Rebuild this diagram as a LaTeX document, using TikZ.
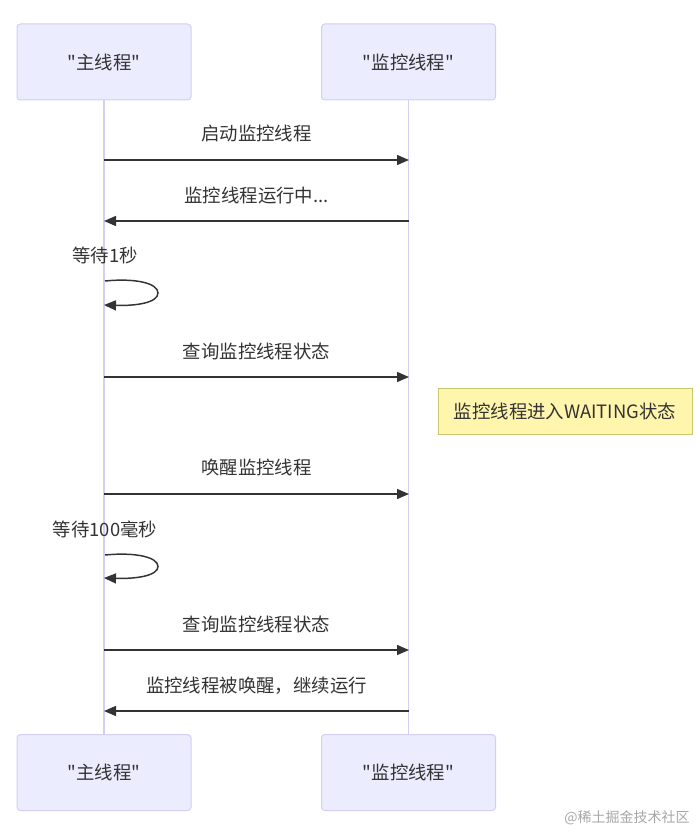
\documentclass[tikz,border=0pt]{standalone}
\usepackage{fontspec}
\setmainfont{Noto Sans CJK SC}[Ligatures=TeXOff]
\usetikzlibrary{arrows.meta}
\definecolor{actfill}{HTML}{ECECFF}
\definecolor{actline}{HTML}{D3CEF2}
\definecolor{lifel}{HTML}{D3CEF2}
\definecolor{txt}{HTML}{333333}
\definecolor{notefill}{HTML}{FFF5AD}
\definecolor{noteline}{HTML}{C8C870}
\tikzset{
  actor/.style={draw=actline, fill=actfill, rounded corners=2.5pt, minimum width=130.5pt, minimum height=57pt, inner sep=0pt, text=txt, font=\fontsize{13.8}{16}\selectfont, line width=0.75pt},
  life/.style={draw=lifel, line width=1.1pt},
  msg/.style={draw=txt, line width=1.1pt, -{Triangle[length=9pt,width=7.5pt]}},
  lbl/.style={text=txt, font=\fontsize{13.8}{16}\selectfont, inner sep=0pt},
  notebox/.style={draw=noteline, fill=notefill, minimum width=190.5pt, minimum height=34.5pt, inner sep=0pt, text=txt, font=\fontsize{13.8}{16}\selectfont, line width=0.75pt},
}
\begin{document}
\begin{tikzpicture}[x=0.75pt,y=-0.75pt]
\useasboundingbox (0,0) rectangle (696,831);
% actors
\node[actor] (mt) at (104,62) {"主线程"};
\node[actor] (wt) at (408.5,62) {"监控线程"};
\node[actor] (mb) at (104,772.5) {"主线程"};
\node[actor] (wb) at (408.5,772.5) {"监控线程"};
% lifelines
\draw[life] (mt.south) -- (mb.north);
\draw[life] (wt.south) -- (wb.north);
% message coordinates
\coordinate (a1) at (104,160); \coordinate (b1) at (409,160);
\coordinate (a2) at (104,221); \coordinate (b2) at (409,221);
\coordinate (l1s) at (105,281); \coordinate (l1e) at (104,305);
\coordinate (a3) at (104,377); \coordinate (b3) at (409,377);
\coordinate (a4) at (104,494); \coordinate (b4) at (409,494);
\coordinate (l2s) at (105,555); \coordinate (l2e) at (104,578);
\coordinate (a5) at (104,650); \coordinate (b5) at (409,650);
\coordinate (a6) at (104,711); \coordinate (b6) at (409,711);
% messages
\draw[msg] (a1) -- (b1);
\node[lbl] (t1) at (256.5,134) {启动监控线程};
\draw[msg] (b2) -- (a2);
\node[lbl] (t2) at (256.5,196) {监控线程运行中...};
\draw[msg] (l1s) .. controls (135,278) and (158,283) .. (158,293) .. controls (158,303) and (135,306) .. (l1e);
\node[lbl] (t3) at (105,255) {等待1秒};
\draw[msg] (a3) -- (b3);
\node[lbl] (t4) at (256.5,351) {查询监控线程状态};
\node[notebox] (n1) at (565,411) {监控线程进入WAITING状态};
\draw[msg] (a4) -- (b4);
\node[lbl] (t5) at (256.5,467) {唤醒监控线程};
\draw[msg] (l2s) .. controls (135,552) and (158,557) .. (158,566.5) .. controls (158,576) and (135,579) .. (l2e);
\node[lbl] (t6) at (105,529) {等待100毫秒};
\draw[msg] (a5) -- (b5);
\node[lbl] (t7) at (256.5,624) {查询监控线程状态};
\draw[msg] (b6) -- (a6);
\node[lbl] (t8) at (256.5,686) {监控线程被唤醒，继续运行};
% watermark
\node[text=black!35, font=\fontsize{10.5}{12}\selectfont, anchor=east, inner sep=0pt] (wm) at (690,818) {@稀土掘金技术社区};
\end{tikzpicture}
\end{document}
